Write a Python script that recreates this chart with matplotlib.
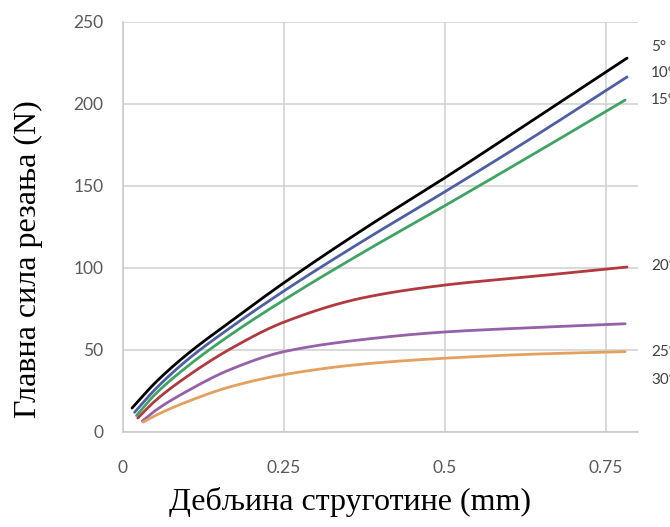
import matplotlib
matplotlib.use("Agg")
import matplotlib.pyplot as plt
import numpy as np

# Data
x_black = [0.014, 0.05, 0.1, 0.166, 0.25, 0.375, 0.5, 0.64, 0.783]
y_black = [14.6, 30, 47.5, 67, 91, 124, 155, 191, 228]
x_blue = [0.018, 0.05, 0.1, 0.166, 0.25, 0.375, 0.5, 0.64, 0.783]
y_blue = [12, 26, 44, 63.4, 86, 117, 146.5, 180.5, 216.5]
x_green = [0.021, 0.05, 0.1, 0.166, 0.25, 0.375, 0.5, 0.64, 0.78]
y_green = [10, 23, 40, 59, 80.5, 110, 138, 170, 202.4]
x_red = [0.023, 0.05, 0.1, 0.166, 0.25, 0.375, 0.5, 0.64, 0.783]
y_red = [8.5, 19, 34, 50.5, 67, 82, 89.6, 95, 100.6]
x_purple = [0.03, 0.05, 0.1, 0.166, 0.25, 0.375, 0.5, 0.64, 0.78]
y_purple = [6.7, 13, 25, 38, 49, 56.5, 61, 63.7, 66]
x_orange = [0.031, 0.05, 0.1, 0.166, 0.25, 0.375, 0.5, 0.64, 0.78]
y_orange = [6, 10, 18.5, 27.5, 35, 41.5, 45, 47.5, 49]

series = [
    ("5°", x_black, y_black, "#000000"),
    ("10°", x_blue, y_blue, "#4e5fa6"),
    ("15°", x_green, y_green, "#3fa463"),
    ("20°", x_red, y_red, "#b03a40"),
    ("25°", x_purple, y_purple, "#9561a8"),
    ("30°", x_orange, y_orange, "#e3a05e"),
]
label_y = [47, 73, 100, 266, 352, 380]  # pixel rows of the right-hand labels

x_ticks = [0, 0.25, 0.5, 0.75]
x_tick_labels = ["0", "0.25", "0.5", "0.75"]
y_ticks = [0, 50, 100, 150, 200, 250]


def pchip(x, y, xi):
    x = np.asarray(x, float); y = np.asarray(y, float)
    h = np.diff(x); d = np.diff(y) / h
    m = np.zeros_like(y)
    for k in range(1, len(x) - 1):
        if d[k - 1] * d[k] > 0:
            w1 = 2 * h[k] + h[k - 1]; w2 = h[k] + 2 * h[k - 1]
            m[k] = (w1 + w2) / (w1 / d[k - 1] + w2 / d[k])
    m[0] = d[0]; m[-1] = d[-1]
    idx = np.clip(np.searchsorted(x, xi) - 1, 0, len(x) - 2)
    hh = h[idx]; s = (xi - x[idx]) / hh
    h00 = 2 * s**3 - 3 * s**2 + 1; h10 = s**3 - 2 * s**2 + s
    h01 = -2 * s**3 + 3 * s**2; h11 = s**3 - s**2
    return h00 * y[idx] + h10 * hh * m[idx] + h01 * y[idx + 1] + h11 * hh * m[idx + 1]


W, H = 670, 527
fig = plt.figure(figsize=(W / 100, H / 100), dpi=100)
ax = fig.add_axes([123 / W, 1 - 432 / H, 515 / W, 410 / H])

for name, xs, ys, c in series:
    t = np.linspace(xs[0], xs[-1], 300)
    ax.plot(t, pchip(xs, ys, t), color=c, lw=2.0, solid_capstyle="round", zorder=3)

ax.set_xlim(0, 0.8)
ax.set_ylim(0, 250)
ax.set_xticks(x_ticks)
ax.set_xticklabels(x_tick_labels)
ax.set_yticks(y_ticks)
ax.grid(True, color="#d0d0d0", lw=1.1)
ax.set_axisbelow(True)
for s in ["top", "right"]:
    ax.spines[s].set_visible(False)
for s in ["left", "bottom"]:
    ax.spines[s].set_color("#c8c8c8")
    ax.spines[s].set_linewidth(1.1)
ax.tick_params(length=0, labelsize=12.5, labelcolor="#595959")
ax.tick_params(axis="x", pad=20)
ax.tick_params(axis="y", pad=14)
for lab in ax.get_xticklabels() + ax.get_yticklabels():
    lab.set_family(["Lato", "DejaVu Sans"])

for (name, xs, ys, c), py in zip(series, label_y):
    fig.text(651 / W, 1 - py / H, name, fontsize=11, color="#404040",
             family=["Lato", "DejaVu Sans"], va="center", ha="left")

fig.text(350 / W, 1 - 502 / H, "Дебљина струготине (mm)", fontsize=23,
         family=["Liberation Serif"], ha="center", va="center", color="#000000")
fig.text(28 / W, 1 - 259 / H, "Главна сила резања (N)", fontsize=23,
         family=["Liberation Serif"], ha="center", va="center", rotation=90, color="#000000")

fig.savefig("out.png", dpi=100)
